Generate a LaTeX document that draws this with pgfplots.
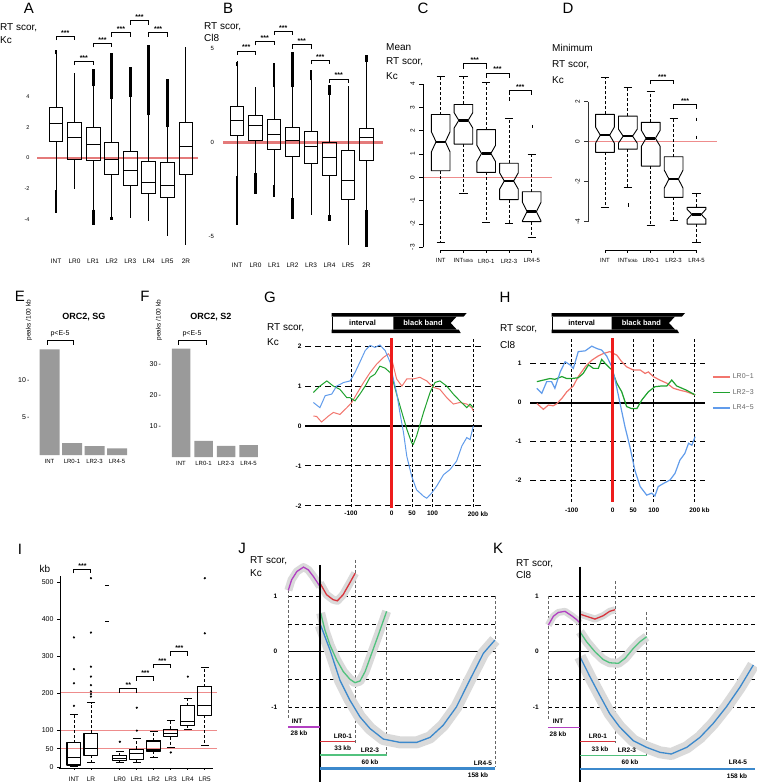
\documentclass[border=0pt]{standalone}
\usepackage{fontspec}
\setmainfont{Liberation Sans}
\setsansfont{Liberation Sans}
\usepackage{pgfplots}
\pgfplotsset{compat=1.18}
\usepgfplotslibrary{statistics}

\definecolor{abRed}{HTML}{E47A7A}
\definecolor{pinkLine}{HTML}{EE8C8C}
\definecolor{vRed}{HTML}{EE1C1C}
\definecolor{gRed}{HTML}{F2766E}
\definecolor{gGreen}{HTML}{1FA22E}
\definecolor{gBlue}{HTML}{619CEB}
\definecolor{jMag}{HTML}{B23FC2}
\definecolor{jRed}{HTML}{D8343C}
\definecolor{jGreen}{HTML}{52C27E}
\definecolor{jBlue}{HTML}{3C89CC}
\definecolor{barGray}{HTML}{9A9A9A}
\definecolor{bandGray}{HTML}{DADADA}

\pgfplotsset{
  panel/.style={anchor=south west, clip=false,
    axis line style={draw=none}, tick style={draw=none},
    /pgf/number format/assume math mode=true,
    ticklabel style={font=\fontsize{6.5}{7}\selectfont}},
  wsk/.style={black, line width=0.8pt, dash pattern=on 3pt off 2pt, forget plot},
  cap/.style={black, line width=0.8pt, forget plot},
  boxln/.style={black, line width=0.9pt, line join=round, forget plot},
  medln/.style={black, line width=2.6pt, forget plot},
  thinmed/.style={black, line width=1pt, forget plot},
  grid dash/.style={black, line width=1pt, dash pattern=on 6pt off 4pt, forget plot},
  vdash/.style={black, line width=0.8pt, dash pattern=on 3pt off 2pt, forget plot},
  jdash/.style={black, line width=0.7pt, dash pattern=on 4pt off 3pt, forget plot},
  jvdash/.style={black!60, line width=0.4pt, dash pattern=on 3pt off 2pt, forget plot},
  band/.style={bandGray, line width=#1, line join=round, forget plot},
}

% plain R-style box (A, B)
\newcommand\bx[6]{\addplot[black, line width=1pt, forget plot,
  boxplot prepared={draw direction=y, draw position=#1, upper whisker=#2, upper quartile=#3,
  median=#4, lower quartile=#5, lower whisker=#6, box extend=0.75, whisker extend=0}]
  coordinates {};}
\newcommand\blob[3]{\addplot[black, line width=2.8pt, forget plot] coordinates {(#1,#2) (#1,#3)};}
% bracket: x1 x2 ytop ybottom xmid text
\newcommand\sig[6]{\addplot[black, line width=0.9pt, forget plot] coordinates {(#1,#4) (#1,#3) (#2,#3) (#2,#4)};
  \node[font=\fontsize{7}{7}\selectfont\bfseries, anchor=south, inner sep=0.8pt] at (axis cs:#5,#3) {#6};}
% notched box: x uw uq med lq lw notch
\newcommand\nbox[7]{%
  \pgfmathsetmacro\nbL{#1-\bw}\pgfmathsetmacro\nbR{#1+\bw}%
  \pgfmathsetmacro\nbIL{#1-\bw/2}\pgfmathsetmacro\nbIR{#1+\bw/2}%
  \pgfmathsetmacro\nbU{#4+#7}\pgfmathsetmacro\nbD{#4-#7}%
  \pgfmathsetmacro\nbCL{#1-\cw}\pgfmathsetmacro\nbCR{#1+\cw}%
  \addplot[wsk] coordinates {(#1,#3) (#1,#2)};
  \addplot[wsk] coordinates {(#1,#5) (#1,#6)};
  \addplot[cap] coordinates {(\nbCL,#2) (\nbCR,#2)};
  \addplot[cap] coordinates {(\nbCL,#6) (\nbCR,#6)};
  \addplot[boxln] coordinates {(\nbL,#3) (\nbR,#3) (\nbR,\nbU) (\nbIR,#4) (\nbR,\nbD) (\nbR,#5)
    (\nbL,#5) (\nbL,\nbD) (\nbIL,#4) (\nbL,\nbU) (\nbL,#3) (\nbR,#3)};
  \addplot[medln] coordinates {(\nbIL,#4) (\nbIR,#4)};}
% plain box with dashed whiskers: x uw uq med lq lw
\newcommand\pbox[6]{%
  \pgfmathsetmacro\nbL{#1-\bw}\pgfmathsetmacro\nbR{#1+\bw}%
  \pgfmathsetmacro\nbCL{#1-\cw}\pgfmathsetmacro\nbCR{#1+\cw}%
  \addplot[wsk] coordinates {(#1,#3) (#1,#2)};
  \addplot[wsk] coordinates {(#1,#5) (#1,#6)};
  \addplot[cap] coordinates {(\nbCL,#2) (\nbCR,#2)};
  \addplot[cap] coordinates {(\nbCL,#6) (\nbCR,#6)};
  \addplot[boxln, line width=1.1pt] coordinates {(\nbL,#3) (\nbR,#3) (\nbR,#5) (\nbL,#5) (\nbL,#3) (\nbR,#3)};
  \addplot[thinmed] coordinates {(\nbL,#4) (\nbR,#4)};}

\newcommand\bandhead[3]{%
  \fill[black] (#1,313) -- (#3,313) -- ({#3-3},316.5) -- (#1,316.5) -- cycle;
  \fill[black] (#1,329.5) -- ({#3-8},329.5) -- ({#3-6},333) -- (#1,333) -- cycle;
  \fill[black] (#2,316.5) -- ({#3-10},316.5) -- ({#3-16},323) -- ({#3-10},329.5) -- (#2,329.5) -- cycle;
  \draw[black, line width=1pt] ({#1+0.5},316.5) -- ({#1+0.5},329.5);
  \node[font=\fontsize{7.5}{8}\selectfont\bfseries] at ({(#1+#2)/2},323) {interval};
  \node[font=\fontsize{7.5}{8}\selectfont\bfseries, text=white] at ({(#2+#3-14)/2},323) {black band};}

\begin{document}
\begin{tikzpicture}
\useasboundingbox (0,0) rectangle (756pt,-784pt);

% ---------------- A
\begin{axis}[panel, at={(37.43pt,-250.5pt)}, x=18.57pt, y=15.42pt,
  xmin=-1, xmax=7.7, ymin=-6, ymax=7.5,
  xtick={0,...,7}, xticklabels={INT,LR0,LR1,LR2,LR3,LR4,LR5,2R},
  xticklabel style={yshift=-5pt},
  ytick={-4,-2,0,2,4}, yticklabel style={font=\fontsize{5.5}{6}\selectfont, xshift=-4.5pt}]
\addplot[abRed, line width=2.6pt, forget plot] coordinates {(-1.02,0) (7.65,0)};
\bx{0}{7.03}{3.26}{2.23}{1.10}{-3.57}
\bx{1}{5.51}{2.31}{1.34}{-0.11}{-1.99}
\bx{2}{5.79}{1.99}{0.86}{-0.19}{-4.37}
\bx{3}{6.81}{0.99}{-0.11}{-1.06}{-4.0}
\bx{4}{5.9}{0.45}{-0.84}{-1.77}{-3.89}
\bx{5}{7.3}{-0.26}{-1.56}{-2.31}{-4.09}
\bx{6}{5.1}{-0.32}{-1.77}{-2.57}{-5.08}
\bx{7}{7.2}{2.27}{0.76}{-1.08}{-5.62}
\blob{0}{6.72}{7.03} \blob{0}{-2.10}{-3.57}
\blob{2}{4.65}{5.79} \blob{2}{-3.35}{-4.37}
\blob{3}{3.85}{6.81} \blob{3}{-3.8}{-4.0}
\blob{4}{3.96}{5.9}
\blob{5}{2.77}{7.3}
\blob{6}{2.0}{5.1}
\sig{0}{1}{7.89}{7.64}{0.5}{***}
\sig{1}{2}{6.27}{6.02}{1.5}{***}
\sig{2}{3}{7.42}{7.17}{2.5}{***}
\sig{3}{4}{8.11}{7.86}{3.5}{***}
\sig{4}{5}{8.89}{8.64}{4.5}{***}
\sig{5}{6}{8.11}{7.86}{5.5}{***}
\end{axis}

% ---------------- B
\begin{axis}[panel, at={(218.5pt,-255.5pt)}, x=18.5pt, y=18.8pt,
  xmin=-1, xmax=8, ymin=-6, ymax=6.5,
  xtick={0,...,7}, xticklabels={INT,LR0,LR1,LR2,LR3,LR4,LR5,2R},
  xticklabel style={yshift=-4pt},
  ytick={-5,0,5}, yticklabel style={font=\fontsize{6}{6}\selectfont, xshift=-1pt}]
\addplot[abRed, line width=2.6pt, forget plot] coordinates {(-0.75,0) (7.9,0)};
\bx{0}{4.34}{1.91}{1.19}{0.39}{-4.40}
\bx{1}{2.94}{1.45}{0.89}{0.14}{-2.73}
\bx{2}{4.26}{1.24}{0.46}{-0.35}{-2.87}
\bx{3}{4.84}{0.80}{0.14}{-0.74}{-4.08}
\bx{4}{3.87}{0.62}{-0.18}{-1.13}{-3.85}
\bx{5}{3.07}{0.0}{-0.80}{-1.77}{-4.15}
\bx{6}{3.01}{-0.44}{-1.99}{-3.0}{-5.44}
\bx{7}{4.66}{0.76}{0.28}{-0.96}{-5.53}
\blob{0}{4.07}{4.29} \blob{0}{-1.77}{-4.40}
\blob{1}{-1.6}{-2.73}
\blob{2}{2.94}{4.26} \blob{2}{-2.25}{-2.87}
\blob{3}{2.94}{4.84} \blob{3}{-2.96}{-4.08}
\blob{4}{3.33}{3.87}
\blob{5}{2.54}{3.07} \blob{5}{-3.85}{-4.15}
\blob{7}{4.31}{4.66} \blob{7}{-3.58}{-5.53}
\sig{0}{1}{4.88}{4.68}{0.5}{***}
\sig{1}{2}{5.37}{5.17}{1.5}{***}
\sig{2}{3}{5.94}{5.74}{2.5}{***}
\sig{3}{4}{5.2}{5.0}{3.5}{***}
\sig{4}{5}{4.36}{4.16}{4.5}{***}
\sig{5}{6}{3.39}{3.19}{5.5}{***}
\end{axis}

% ---------------- C
\def\bw{0.41}\def\cw{0.18}
\begin{axis}[panel, at={(423.3pt,-250.3pt)}, x=22.75pt, y=23.33pt,
  xmin=-0.765, xmax=4.9, ymin=-3.13, ymax=4.5,
  xtick={0,...,4}, xticklabels={INT,{INT{\fontsize{4.5}{5}\selectfont 50kb}},LR0-1,LR2-3,LR4-5},
  xticklabel style={font=\fontsize{6}{6}\selectfont, yshift=-5pt},
  ytick={-3,...,4}, yticklabel style={xshift=-5pt, rotate=90, anchor=south}]
\addplot[pinkLine, line width=0.8pt, forget plot] coordinates {(-0.765,0) (4.88,0)};
\draw[black, line width=0.8pt] (axis cs:-0.765,-3) -- (axis cs:-0.765,4);
\pgfplotsinvokeforeach{-3,...,4}{\draw[black, line width=0.8pt] (axis cs:-0.765,#1) -- ++(-4pt,0pt);}
\draw[black, line width=0.8pt] (axis cs:0,-3.13) -- (axis cs:4,-3.13);
\pgfplotsinvokeforeach{0,...,4}{\draw[black, line width=0.8pt] (axis cs:#1,-3.13) -- ++(0pt,-3pt);}
\nbox{0}{4.32}{2.69}{1.52}{0.28}{-2.79}{0.43}
\nbox{1}{4.32}{3.12}{2.44}{1.42}{-0.68}{0.33}
\nbox{2}{4.08}{2.04}{1.02}{0.21}{-1.92}{0.35}
\nbox{3}{2.51}{0.60}{-0.16}{-0.96}{-1.96}{0.35}
\nbox{4}{0.99}{-0.62}{-1.47}{-1.90}{-2.57}{0.4}
\addplot[only marks, mark=|, mark size=1.8pt, black, forget plot] coordinates {(3,3.36) (4,2.17)};
\sig{1}{2}{4.86}{4.66}{1.5}{***}
\sig{2}{3}{4.47}{4.27}{2.5}{***}
\sig{3}{4}{3.74}{3.54}{3.5}{***}
\end{axis}

% ---------------- D
\begin{axis}[panel, at={(588.3pt,-250pt)}, x=22.9pt, y=20pt,
  xmin=-0.727, xmax=4.9, ymin=-5.415, ymax=3.5,
  xtick={0,...,4}, xticklabels={INT,{INT{\fontsize{4.5}{5}\selectfont 50kb}},LR0-1,LR2-3,LR4-5},
  xticklabel style={font=\fontsize{6}{6}\selectfont, yshift=-5pt},
  ytick={-4,-2,0,2}, yticklabel style={xshift=-5pt, rotate=90, anchor=south}]
\addplot[pinkLine, line width=0.8pt, forget plot] coordinates {(-0.727,0) (4.88,0)};
\draw[black!80, line width=0.8pt] (axis cs:-0.727,-4) -- (axis cs:-0.727,2);
\pgfplotsinvokeforeach{-4,-2,0,2}{\draw[black!80, line width=0.8pt] (axis cs:-0.727,#1) -- ++(-4pt,0pt);}
\draw[black, line width=0.8pt] (axis cs:0,-5.415) -- (axis cs:4,-5.415);
\pgfplotsinvokeforeach{0,...,4}{\draw[black, line width=0.8pt] (axis cs:#1,-5.415) -- ++(0pt,-3pt);}
\nbox{0}{3.22}{1.37}{0.33}{-0.53}{-3.28}{0.4}
\nbox{1}{2.72}{1.28}{0.28}{-0.37}{-2.3}{0.35}
\nbox{2}{2.53}{0.97}{0.17}{-1.22}{-4.2}{0.4}
\nbox{3}{1.17}{-0.75}{-1.87}{-2.78}{-3.95}{0.45}
\nbox{4}{-2.58}{-3.28}{-3.63}{-4.12}{-5.03}{0.25}
\addplot[only marks, mark=|, mark size=1.8pt, black, forget plot] coordinates {(1,-3.17) (4,1.12) (4,0.22)};
\sig{2}{3}{3.08}{2.88}{2.5}{***}
\sig{3}{4}{1.85}{1.65}{3.5}{***}
\end{axis}

% ---------------- E
\begin{axis}[panel, at={(36pt,-455pt)}, x=22.5pt, y=7.5pt,
  xmin=-0.6, xmax=3.5, ymin=0, ymax=15,
  xtick={0,...,3}, xticklabels={INT,LR0-1,LR2-3,LR4-5},
  xticklabel style={font=\fontsize{6}{6}\selectfont, yshift=-1pt},
  ytick={5,10}, yticklabels={5\,-,10\,-}, yticklabel style={font=\fontsize{7}{7}\selectfont, xshift=-3pt}]
\addplot[ybar, bar width=20pt, bar shift=0pt, fill=barGray, draw=none, forget plot]
  coordinates {(0,14.1) (1,1.6) (2,1.2) (3,0.9)};
\addplot[black, line width=0.9pt, forget plot] coordinates {(-0.1,14.67) (-0.1,15.33) (1.05,15.33) (1.05,14.67)};
\end{axis}

% ---------------- F
\begin{axis}[panel, at={(167.5pt,-457pt)}, x=22.5pt, y=3.1pt,
  xmin=-0.6, xmax=3.5, ymin=0, ymax=40,
  xtick={0,...,3}, xticklabels={INT,LR0-1,LR2-3,LR4-5},
  xticklabel style={font=\fontsize{6}{6}\selectfont, yshift=-1pt},
  ytick={10,20,30}, yticklabels={10\,-,20\,-,30\,-}, yticklabel style={font=\fontsize{7}{7}\selectfont, xshift=-3pt}]
\addplot[ybar, bar width=18.5pt, bar shift=0pt, fill=barGray, draw=none, forget plot]
  coordinates {(0,35) (1,5.2) (2,3.6) (3,3.8)};
\addplot[black, line width=0.9pt, forget plot] coordinates {(-0.13,36.1) (-0.13,37.7) (1.11,37.7) (1.11,36.1)};
\end{axis}

% ---------------- G
\begin{axis}[panel, at={(305pt,-507.8pt)}, x=0.408pt, y=39.9pt,
  xmin=-212.5, xmax=220.6, ymin=-2.05, ymax=2.3,
  ticklabel style={font=\fontsize{6.5}{7}\selectfont\bfseries},
  xtick={-100,0,50,100,200}, xticklabels={-100,0,50,100,200\rlap{ kb}},
  ytick={-2,-1,0,1,2}]
\addplot[grid dash] coordinates {(-212.5,2) (220.6,2)};
\addplot[grid dash] coordinates {(-212.5,1) (220.6,1)};
\addplot[grid dash] coordinates {(-212.5,-1) (220.6,-1)};
\addplot[grid dash] coordinates {(-212.5,-2) (220.6,-2)};
\addplot[black, line width=1.8pt, forget plot] coordinates {(-212.5,0) (220.6,0)};
\addplot[vdash] coordinates {(-100,-2.02) (-100,2.24)};
\addplot[vdash] coordinates {(50,-2.02) (50,2.24)};
\addplot[vdash] coordinates {(100,-2.02) (100,2.24)};
\addplot[vdash] coordinates {(200,-2.02) (200,2.24)};
\addplot[gRed, line width=1pt, forget plot] coordinates {
  (-192,0.25)(-184,0.24)(-172,0.10)(-155,0.25)(-143,0.34)(-127,0.29)(-110,0.46)(-98,0.59)(-86,0.80)
  (-69,1.09)(-53,1.34)(-37,1.55)(-20,1.72)(-8,1.81)(0,1.68)(12,1.18)(25,1.00)(37,1.18)(53,1.18)
  (69,1.22)(86,1.13)(102,0.97)(118,0.92)(135,0.71)(151,0.55)(167,0.59)(184,0.55)(196,0.46)(200,0.38)};
\addplot[gGreen, line width=1pt, forget plot] coordinates {
  (-192,0.84)(-176,1.0)(-159,1.13)(-143,1.0)(-127,0.92)(-110,0.71)(-102,0.71)(-90,0.63)(-78,0.80)
  (-65,1.0)(-53,1.22)(-41,1.30)(-29,1.50)(-16,1.45)(-4,1.34)(0,1.26)(12,0.80)(25,0.34)(37,-0.08)
  (49,-0.42)(53,-0.46)(61,-0.25)(78,0.34)(94,0.84)(106,1.09)(118,1.13)(135,1.0)(151,0.80)(167,0.63)
  (184,0.46)(192,0.55)(200,0.46)};
\addplot[gBlue, line width=1pt, forget plot] coordinates {
  (-192,0.59)(-176,0.46)(-163,0.76)(-147,0.80)(-135,1.0)(-118,1.09)(-102,1.13)(-90,1.34)(-78,1.60)
  (-65,1.89)(-53,2.02)(-41,1.97)(-29,2.03)(-16,1.89)(-4,1.60)(4,1.18)(12,0.84)(20,0.34)(29,-0.17)
  (37,-0.76)(49,-1.26)(61,-1.60)(78,-1.76)(86,-1.81)(98,-1.68)(110,-1.51)(127,-1.22)(143,-1.09)
  (159,-0.88)(172,-0.50)(184,-0.29)(192,-0.34)(200,0)};
\addplot[vRed, line width=2.5pt, forget plot] coordinates {(0,-2.06) (0,2.2)};
\end{axis}

% ---------------- H
\begin{axis}[panel, at={(530pt,-504.1pt)}, x=0.41pt, y=39pt,
  xmin=-201.7, xmax=225, ymin=-2.6, ymax=1.65,
  ticklabel style={font=\fontsize{6.5}{7}\selectfont\bfseries},
  xtick={-100,0,50,100,200}, xticklabels={-100,0,50,100,200\rlap{ kb}},
  ytick={-2,-1,0,1}, yticklabel style={xshift=-5pt},
  legend style={at={(1,0.81)}, anchor=north west, xshift=4pt, draw=none, fill=none,
    font=\fontsize{7}{8}\selectfont, row sep=5pt},
  legend image post style={line width=1.6pt},
  legend cell align=left]
\addplot[grid dash] coordinates {(-201.7,1) (225,1)};
\addplot[grid dash] coordinates {(-201.7,-1) (225,-1)};
\addplot[grid dash] coordinates {(-201.7,-2) (225,-2)};
\addplot[black, line width=1.8pt, forget plot] coordinates {(-201.7,0) (225,0)};
\addplot[vdash] coordinates {(-100,-2.54) (-100,1.65)};
\addplot[vdash] coordinates {(50,-2.54) (50,1.65)};
\addplot[vdash] coordinates {(100,-2.54) (100,1.65)};
\addplot[vdash] coordinates {(200,-2.54) (200,1.65)};
\addplot[gRed, line width=1.2pt] coordinates {
  (-185,-0.02)(-169,-0.17)(-157,-0.06)(-145,-0.08)(-137,-0.03)(-124,0.11)(-112,0.28)(-96,0.43)
  (-84,0.67)(-67,0.92)(-51,1.09)(-35,1.20)(-23,1.26)(-7,1.31)(10,1.22)(22,1.05)(34,0.92)(50,0.84)
  (67,0.84)(79,0.75)(87,0.79)(99,0.67)(115,0.58)(132,0.50)(148,0.37)(164,0.32)(180,0.28)(201,0.20)};
\addlegendentry{\textcolor{black!60}{LR0−1}}
\addplot[gGreen, line width=1.2pt] coordinates {
  (-185,0.54)(-169,0.58)(-153,0.62)(-141,0.60)(-124,0.67)(-112,0.62)(-100,0.62)(-84,0.64)(-72,0.75)
  (-59,0.97)(-47,0.88)(-35,0.88)(-27,1.11)(-15,0.97)(-2,0.84)(10,0.50)(22,0.28)(34,-0.10)(46,-0.15)
  (59,-0.15)(71,0.07)(87,0.28)(103,0.41)(120,0.43)(132,0.43)(144,0.58)(156,0.43)(180,0.32)(201,0.20)};
\addlegendentry{\textcolor{black!60}{LR2−3}}
\addplot[gBlue, line width=1.2pt] coordinates {
  (-185,0.37)(-173,0.24)(-161,0.54)(-149,0.54)(-141,0.37)(-128,0.79)(-116,1.05)(-104,0.97)(-96,0.88)
  (-84,1.31)(-67,1.33)(-51,1.45)(-39,1.39)(-27,1.35)(-15,1.20)(-2,0.92)(6,0.58)(18,-0.02)(30,-0.62)
  (42,-1.13)(54,-1.73)(67,-2.15)(83,-2.37)(95,-2.32)(103,-2.39)(111,-2.15)(124,-2.07)(140,-1.98)
  (152,-1.81)(164,-1.47)(176,-1.30)(185,-1.04)(193,-1.09)(201,-0.87)};
\addlegendentry{\textcolor{black!60}{LR4−5}}
\addplot[vRed, line width=2.5pt, forget plot] coordinates {(0,-2.54) (0,1.65)};
\end{axis}

% ---------------- I
\def\bw{0.41}\def\cw{0.24}
\begin{axis}[panel, at={(60pt,-768pt)}, x=17pt, y=0.37pt,
  xmin=-0.82, xmax=8.4, ymin=-2, ymax=510,
  xtick={0,1,2.7,3.7,4.7,5.7,6.7,7.7}, xticklabels={INT,LR,LR0,LR1,LR2,LR3,LR4,LR5},
  xticklabel style={yshift=-5.5pt},
  ytick={0,50,100,200,300,400,500}, yticklabel style={font=\fontsize{7}{7}\selectfont, xshift=-3pt}]
\addplot[pinkLine, line width=1pt, forget plot] coordinates {(-0.82,201) (8.4,201)};
\addplot[pinkLine, line width=1pt, forget plot] coordinates {(-0.82,100) (8.4,100)};
\addplot[pinkLine, line width=1pt, forget plot] coordinates {(-0.82,50) (8.4,50)};
\draw[black, line width=1pt] (axis cs:-0.82,-2) -- (axis cs:-0.82,518);
\pgfplotsinvokeforeach{0,50,100,200,300,400,500}{\draw[black, line width=0.8pt] (axis cs:-0.82,#1) -- ++(-3pt,0pt);}
\draw[black, line width=1pt] (axis cs:-0.9,-2) -- (axis cs:8.2,-2);
\pgfplotsinvokeforeach{0,1,2.7,3.7,4.7,5.7,6.7,7.7}{\draw[black, line width=0.8pt] (axis cs:#1,-2) -- ++(0pt,-2pt);}
\pbox{0}{143}{66}{27}{6}{2}
\pbox{1}{175}{92}{51}{33}{12}
\pbox{2.7}{44}{31}{24}{18}{12}
\pbox{3.7}{78}{49}{38}{22}{12}
\pbox{4.7}{96}{71}{49}{44}{27}
\pbox{5.7}{128}{103}{92}{83}{54}
\pbox{6.7}{186}{166}{123}{114}{103}
\pbox{7.7}{270}{218}{168}{141}{60}
\addplot[only marks, mark=*, mark size=0.9pt, black, forget plot] coordinates {
  (0,166) (0,227) (0,265) (0,351)
  (1,191) (1,198) (1,205) (1,222) (1,245) (1,272) (1,364) (1,511)
  (2.7,69) (3.7,99) (3.7,161) (5.7,40) (6.7,245) (7.7,362) (7.7,511)};
\addplot[only marks, mark=-, mark size=2pt, black, forget plot] coordinates {(1.94,493) (1.94,394)};
\sig{0}{1}{535}{524}{0.5}{***}
\sig{2.7}{3.7}{212}{201}{3.2}{**}
\sig{3.7}{4.7}{245}{234}{4.2}{***}
\sig{4.7}{5.7}{279}{268}{5.2}{***}
\sig{5.7}{6.7}{312}{301}{6.2}{***}
\end{axis}

% ---------------- J
\begin{axis}[panel, at={(288.3pt,-782.2pt)}, x=1.1pt, y=55.3pt,
  xmin=-28.8, xmax=159, ymin=-2.36, ymax=1.6,
  ticklabel style={font=\fontsize{6.5}{7}\selectfont\bfseries},
  xtick=\empty, ytick={-1,0,1}, yticklabel style={xshift=-7.5pt}]
\addplot[jdash] coordinates {(-28.8,1) (159,1)};
\addplot[jdash] coordinates {(-28.8,0.5) (159,0.5)};
\addplot[jdash] coordinates {(-28.8,-0.5) (159,-0.5)};
\addplot[jdash] coordinates {(-28.8,-1) (159,-1)};
\addplot[black, line width=0.7pt, forget plot] coordinates {(-28.8,0) (159,0)};
\addplot[jvdash] coordinates {(-28.8,1.12) (-28.8,-1.23)};
\addplot[jvdash] coordinates {(32,1.66) (32,-1.66)};
\addplot[jvdash] coordinates {(60.6,0.72) (60.6,-1.87)};
\addplot[jvdash] coordinates {(159,1.0) (159,-2.08)};
\addplot[band=8pt] coordinates {
  (-28.8,1.11)(-25.8,1.30)(-21,1.45)(-15,1.53)(-10.6,1.48)(-6,1.36)(-3,1.27)(0,1.18)};
\addplot[band=8pt] coordinates {
  (0,1.24)(6,1.03)(12,0.94)(15.8,0.92)(21,1.03)(27,1.24)(32,1.42)};
\addplot[band=9pt] coordinates {
  (0.6,0.70)(4.5,0.39)(9.1,0.12)(15.2,-0.15)(21.2,-0.36)(27.3,-0.50)(31.8,-0.56)(36.4,-0.53)
  (41,-0.36)(47,-0.03)(53,0.30)(60.6,0.73)};
\addplot[band=12pt] coordinates {
  (0.6,0.48)(9.1,0.03)(18.2,-0.52)(27.3,-0.88)(36.4,-1.18)(45.5,-1.39)(57.6,-1.58)(72.7,-1.64)
  (87.9,-1.64)(100,-1.55)(112,-1.33)(124,-1.0)(136,-0.52)(148.5,-0.03)(159,0.21)};
\addplot[jMag, line width=1.3pt, forget plot] coordinates {
  (-28.8,1.11)(-25.8,1.30)(-21,1.45)(-15,1.53)(-10.6,1.48)(-6,1.36)(-3,1.27)(0,1.18)};
\addplot[jRed, line width=1.3pt, forget plot] coordinates {
  (0,1.24)(6,1.03)(12,0.94)(15.8,0.92)(21,1.03)(27,1.24)(32,1.42)};
\addplot[jGreen, line width=1.3pt, forget plot] coordinates {
  (0.6,0.70)(4.5,0.39)(9.1,0.12)(15.2,-0.15)(21.2,-0.36)(27.3,-0.50)(31.8,-0.56)(36.4,-0.53)
  (41,-0.36)(47,-0.03)(53,0.30)(60.6,0.73)};
\addplot[jBlue, line width=1.3pt, forget plot] coordinates {
  (0.6,0.48)(9.1,0.03)(18.2,-0.52)(27.3,-0.88)(36.4,-1.18)(45.5,-1.39)(57.6,-1.58)(72.7,-1.64)
  (87.9,-1.64)(100,-1.55)(112,-1.33)(124,-1.0)(136,-0.52)(148.5,-0.03)(159,0.21)};
\addplot[black, line width=1.3pt, forget plot] coordinates {(0,1.57) (0,-2.36)};
\addplot[jMag, line width=1.6pt, forget plot] coordinates {(-28.8,-1.367) (0,-1.367)};
\addplot[jRed, line width=1.6pt, forget plot] coordinates {(0,-1.627) (32,-1.627)};
\addplot[jGreen, line width=1.6pt, forget plot] coordinates {(0,-1.868) (60.6,-1.868)};
\addplot[jBlue, line width=2.6pt, forget plot] coordinates {(0,-2.109) (159,-2.109)};
\end{axis}

% ---------------- K
\begin{axis}[panel, at={(548.3pt,-782.2pt)}, x=1.1pt, y=55.3pt,
  xmin=-28.8, xmax=159, ymin=-2.36, ymax=1.6,
  ticklabel style={font=\fontsize{6.5}{7}\selectfont\bfseries},
  xtick=\empty, ytick={-1,0,1}, yticklabel style={xshift=-6pt}]
\addplot[jdash] coordinates {(-28.8,1) (159,1)};
\addplot[jdash] coordinates {(-28.8,0.5) (159,0.5)};
\addplot[jdash] coordinates {(-28.8,-0.5) (159,-0.5)};
\addplot[jdash] coordinates {(-28.8,-1) (159,-1)};
\addplot[black, line width=0.7pt, forget plot] coordinates {(-28.8,0) (159,0)};
\addplot[jvdash] coordinates {(-28.8,1.0) (-28.8,-1.23)};
\addplot[jvdash] coordinates {(32,1.27) (32,-1.66)};
\addplot[jvdash] coordinates {(60.6,0.72) (60.6,-1.87)};
\addplot[band=7pt] coordinates {
  (-28.8,0.48)(-24.2,0.64)(-19.7,0.71)(-13.6,0.73)(-7.6,0.65)(-3,0.58)(0,0.52)};
\addplot[band=7pt] coordinates {
  (0,0.68)(6,0.64)(13.6,0.59)(21,0.65)(27,0.73)(32,0.76)};
\addplot[band=9pt] coordinates {
  (0,0.36)(6,0.18)(13.6,0)(21,-0.14)(27,-0.2)(35,-0.21)(41,-0.12)(48.5,0.06)(54.5,0.18)(60.6,0.27)};
\addplot[band=12pt] coordinates {
  (0,-0.09)(9,-0.45)(18,-0.79)(27,-1.12)(36,-1.36)(48.5,-1.61)(60.6,-1.73)(72.7,-1.82)(83,-1.85)
  (97,-1.73)(109,-1.55)(121,-1.3)(133,-1.0)(145.5,-0.64)(157.6,-0.24)};
\addplot[jMag, line width=1.3pt, forget plot] coordinates {
  (-28.8,0.48)(-24.2,0.64)(-19.7,0.71)(-13.6,0.73)(-7.6,0.65)(-3,0.58)(0,0.52)};
\addplot[jRed, line width=1.3pt, forget plot] coordinates {
  (0,0.68)(6,0.64)(13.6,0.59)(21,0.65)(27,0.73)(32,0.76)};
\addplot[jGreen, line width=1.3pt, forget plot] coordinates {
  (0,0.36)(6,0.18)(13.6,0)(21,-0.14)(27,-0.2)(35,-0.21)(41,-0.12)(48.5,0.06)(54.5,0.18)(60.6,0.27)};
\addplot[jBlue, line width=1.3pt, forget plot] coordinates {
  (0,-0.09)(9,-0.45)(18,-0.79)(27,-1.12)(36,-1.36)(48.5,-1.61)(60.6,-1.73)(72.7,-1.82)(83,-1.85)
  (97,-1.73)(109,-1.55)(121,-1.3)(133,-1.0)(145.5,-0.64)(157.6,-0.24)};
\addplot[black, line width=1.3pt, forget plot] coordinates {(0,1.54) (0,-2.36)};
\addplot[jMag, line width=1.6pt, forget plot] coordinates {(-28.8,-1.374) (0,-1.374)};
\addplot[jRed, line width=1.6pt, forget plot] coordinates {(0,-1.627) (32,-1.627)};
\addplot[jGreen, line width=1.6pt, forget plot] coordinates {(0,-1.88) (60.6,-1.88)};
\addplot[jBlue, line width=2.6pt, forget plot] coordinates {(0,-2.12) (159,-2.12)};
\end{axis}

% ---------------- texts, in pixel coordinates (y down)
\begin{scope}[x=1pt, y=-1pt]
\tikzset{lett/.style={font=\fontsize{15}{18}\selectfont},
  ylab/.style={anchor=north west, align=left, inner sep=0pt},
  jk/.style={font=\fontsize{6.5}{7}\selectfont\bfseries}}
\node[lett] at (29,8) {A};
\node[lett] at (228,8) {B};
\node[lett] at (423,8) {C};
\node[lett] at (568,8) {D};
\node[lett] at (20,296) {E};
\node[lett] at (145,296) {F};
\node[lett] at (270,297) {G};
\node[lett] at (505,297) {H};
\node[lett] at (20,549) {I};
\node[lett] at (242,548) {J};
\node[lett] at (498,548) {K};
\node[ylab, font=\fontsize{10}{13}\selectfont] at (0,23.4) {RT scor,\\Kc};
\node[ylab, font=\fontsize{10}{12.5}\selectfont] at (204,22.4) {RT scor,\\Cl8};
\node[ylab, font=\fontsize{10}{14.8}\selectfont] at (386,43) {Mean\\RT scor,\\Kc};
\node[ylab, font=\fontsize{10}{16}\selectfont] at (552,44.4) {Minimum\\RT scor,\\Kc};
\node[ylab, font=\fontsize{10}{15}\selectfont] at (267,323.4) {RT scor,\\Kc};
\node[ylab, font=\fontsize{10}{17}\selectfont] at (500,324.4) {RT scor,\\Cl8};
\node[ylab, font=\fontsize{10}{13}\selectfont] at (250,556.4) {RT scor,\\Kc};
\node[ylab, font=\fontsize{10}{12}\selectfont] at (516,559.7) {RT scor,\\Cl8};
\node[font=\fontsize{10}{12}\selectfont] at (45,569) {kb};
% E, F
\node[rotate=90, font=\fontsize{6.5}{7}\selectfont] at (29,320) {peaks /100 kb};
\node[rotate=90, font=\fontsize{6.5}{7}\selectfont] at (159,320) {peaks /100 kb};
\node[font=\fontsize{9}{10}\selectfont\bfseries] at (84,317) {ORC2, SG};
\node[font=\fontsize{9}{10}\selectfont\bfseries] at (211,317) {ORC2, S2};
\node[font=\fontsize{7}{8}\selectfont] at (60,334) {p<E-5};
\node[font=\fontsize{7}{8}\selectfont] at (192,334) {p<E-5};
% G, H header bars
\bandhead{331.7}{393.3}{466.7}
\bandhead{551.7}{611.7}{685}
% J, K bottom labels
\node[jk] at (297,721.5) {INT};
\node[jk] at (299,733.5) {28 kb};
\node[jk] at (343,736.7) {LR0-1};
\node[jk] at (342.7,748.3) {33 kb};
\node[jk] at (370,750) {LR2-3};
\node[jk] at (370,761.7) {60 kb};
\node[jk] at (483,763) {LR4-5};
\node[jk] at (478,775) {158 kb};
\node[jk] at (558,721.7) {INT};
\node[jk] at (558,734) {28 kb};
\node[jk] at (598,736.7) {LR0-1};
\node[jk] at (600,749.3) {33 kb};
\node[jk] at (627,750) {LR2-3};
\node[jk] at (630,762.3) {60 kb};
\node[jk] at (738,762.7) {LR4-5};
\node[jk] at (737,776) {158 kb};
\end{scope}
\end{tikzpicture}
\end{document}
